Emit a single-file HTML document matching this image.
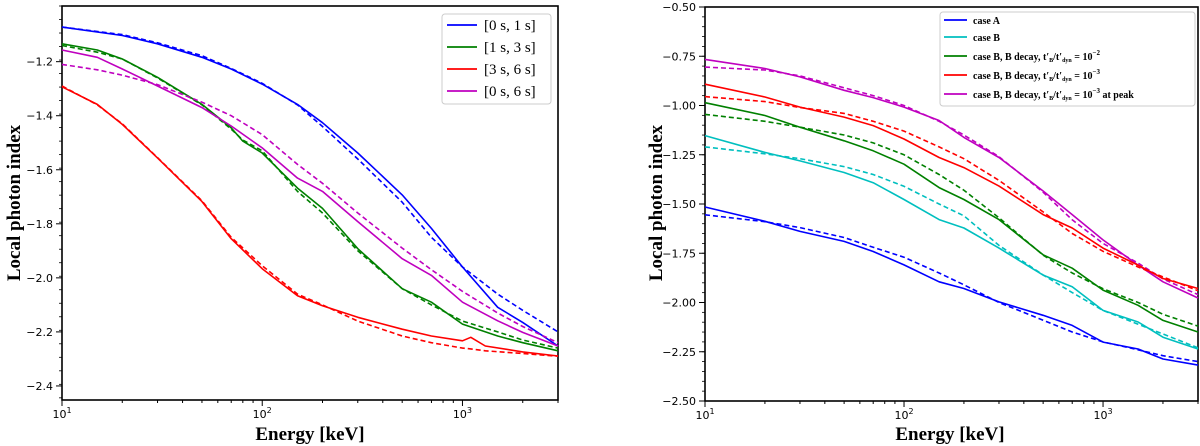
<!DOCTYPE html>
<html><head><meta charset="utf-8"><style>
body{margin:0;background:#fff;}
svg{display:block;}
</style></head><body>
<svg id="chart" width="1200" height="446" viewBox="0 0 1200 446" xmlns="http://www.w3.org/2000/svg"></svg>
<script>
// ---------- Left panel data ----------
const leftBlueE = [10,20,30,50,70,100,150,200,300,500,700,1000,1500,2000,3000];
const leftBlueSolid = [-1.072,-1.103,-1.134,-1.184,-1.227,-1.283,-1.358,-1.426,-1.538,-1.693,-1.817,-1.960,-2.109,-2.165,-2.252];
const leftBlueDash = [-1.072,-1.10,-1.13,-1.178,-1.225,-1.28,-1.36,-1.44,-1.56,-1.72,-1.85,-1.96,-2.06,-2.12,-2.20];
const leftGreenE = [10,15,20,30,50,70,80,100,150,200,300,500,700,1000,1500,2000,3000];
const leftGreenSolid = [-1.134,-1.157,-1.19,-1.258,-1.358,-1.445,-1.494,-1.538,-1.668,-1.743,-1.892,-2.04,-2.09,-2.171,-2.215,-2.24,-2.27];
const leftGreenDash = [-1.14,-1.165,-1.19,-1.26,-1.36,-1.45,-1.49,-1.53,-1.68,-1.76,-1.9,-2.04,-2.1,-2.16,-2.2,-2.23,-2.26];
const leftRedE = [10,15,20,30,50,70,100,150,200,300,500,700,1000,1100,1300,2000,3000];
const leftRedSolid = [-1.293,-1.358,-1.432,-1.556,-1.718,-1.855,-1.966,-2.066,-2.103,-2.146,-2.19,-2.215,-2.233,-2.22,-2.252,-2.274,-2.289];
const leftRedDash = [-1.29,-1.36,-1.43,-1.555,-1.715,-1.85,-1.955,-2.06,-2.10,-2.16,-2.215,-2.24,-2.26,-2.263,-2.27,-2.28,-2.29];
const leftMagE = [10,15,20,30,50,70,100,150,200,300,500,700,1000,1500,2000,3000];
const leftMagSolid = [-1.157,-1.184,-1.227,-1.29,-1.37,-1.438,-1.519,-1.631,-1.68,-1.792,-1.929,-1.991,-2.09,-2.159,-2.202,-2.252];
const leftMagDash = [-1.21,-1.23,-1.25,-1.285,-1.35,-1.40,-1.47,-1.58,-1.65,-1.76,-1.89,-1.97,-2.05,-2.13,-2.18,-2.24];
const leftYTicks = [-1.2,-1.4,-1.6,-1.8,-2.0,-2.2,-2.4];
const leftLegend = ["[0 s, 1 s]","[1 s, 3 s]","[3 s, 6 s]","[0 s, 6 s]"];

// ---------- Right panel data ----------
const rightE = [10,20,30,50,70,100,150,200,300,500,700,1000,1500,2000,3000];
const rightMagSolid = [-0.766,-0.812,-0.855,-0.923,-0.96,-1.008,-1.076,-1.162,-1.264,-1.434,-1.554,-1.682,-1.81,-1.895,-1.977];
const rightMagDash = [-0.805,-0.82,-0.85,-0.91,-0.95,-1.0,-1.08,-1.15,-1.26,-1.44,-1.58,-1.70,-1.80,-1.88,-1.96];
const rightRedSolid = [-0.892,-0.957,-1.008,-1.059,-1.102,-1.17,-1.264,-1.315,-1.409,-1.554,-1.622,-1.724,-1.81,-1.878,-1.929];
const rightRedDash = [-0.955,-0.98,-1.01,-1.04,-1.08,-1.13,-1.21,-1.27,-1.38,-1.54,-1.65,-1.74,-1.82,-1.87,-1.94];
const rightGreenSolid = [-0.986,-1.051,-1.11,-1.179,-1.23,-1.298,-1.417,-1.477,-1.579,-1.758,-1.826,-1.937,-2.014,-2.091,-2.15];
const rightGreenDash = [-1.045,-1.08,-1.11,-1.15,-1.19,-1.25,-1.35,-1.43,-1.57,-1.76,-1.85,-1.93,-2.0,-2.06,-2.12];
const rightCyanSolid = [-1.153,-1.238,-1.281,-1.34,-1.392,-1.477,-1.579,-1.622,-1.724,-1.861,-1.92,-2.04,-2.099,-2.176,-2.236];
const rightCyanDash = [-1.21,-1.245,-1.27,-1.31,-1.35,-1.41,-1.50,-1.56,-1.71,-1.86,-1.95,-2.04,-2.11,-2.16,-2.23];
const rightBlueSolid = [-1.515,-1.588,-1.639,-1.69,-1.741,-1.809,-1.895,-1.929,-1.997,-2.065,-2.116,-2.201,-2.236,-2.287,-2.318];
const rightBlueDash = [-1.555,-1.59,-1.62,-1.67,-1.72,-1.77,-1.85,-1.91,-2.0,-2.09,-2.15,-2.2,-2.24,-2.27,-2.30];
const rightYTicks = [-0.50,-0.75,-1.00,-1.25,-1.50,-1.75,-2.00,-2.25,-2.50];
const rightLegend = ["case A","case B","case B, B decay, t′_B/t′_dyn = 10^−2","case B, B decay, t′_B/t′_dyn = 10^−3","case B, B decay, t′_B/t′_dyn = 10^−3 at peak"];

const svg = document.getElementById('chart');
const NS = 'http://www.w3.org/2000/svg';
function mk(tag, attrs, parent){const e=document.createElementNS(NS,tag);for(const k in attrs)e.setAttribute(k,attrs[k]);(parent||svg).appendChild(e);return e;}
const serif = '"Liberation Serif", "DejaVu Serif", serif';
const sans = '"DejaVu Sans", "Liberation Sans", sans-serif';

function panel(id, x0, x1, y0, y1, ymin, ymax, yTicks, yDec, yMinor){
  const g = mk('g',{});
  
  
  const xs = e => x0 + (Math.log10(e)-1)/(Math.log10(3000)-1)*(x1-x0);
  const ys = v => y0 + (ymax-v)/(ymax-ymin)*(y1-y0);
  for(let d=1; d<=3; d++){
    for(let m=1;m<10;m++){
      const e=m*Math.pow(10,d); if(e>3000) break;
      const x=xs(e), len = m===1?6:3;
      const t=mk('line',{x1:x,x2:x,y1:y1,y2:y1+len,stroke:'#000','stroke-width':1},g);
      
      
      if(m===1){
        const lab=mk('text',{x:x,y:y1+18,'text-anchor':'middle','font-family':sans,'font-size':11},g);
        
        
        lab.textContent='10';
        const s=mk('tspan',{dy:-5,'font-size':8},lab); s.textContent=String(d);
      }
    }
  }
  yTicks.forEach(v=>{
    const y=ys(v);
    mk('line',{x1:x0-6,x2:x0,y1:y,y2:y,stroke:'#000','stroke-width':1},g);
    const lab=mk('text',{x:x0-9,y:y+4,'text-anchor':'end','font-family':sans,'font-size':11},g);
    
    
    lab.textContent='−'+Math.abs(v).toFixed(yDec);
  });
  for(let v=ymax; v>=ymin-1e-9; v-=yMinor){
    const y=ys(v);
    mk('line',{x1:x0-3,x2:x0,y1:y,y2:y,stroke:'#000','stroke-width':0.8},g);
  }
  const frame=mk('rect',{x:x0,y:y0,width:x1-x0,height:y1-y0,fill:'none',stroke:'#000','stroke-width':1.6},g);
  
  
  return {g,xs,ys};
}
function series(p, name, E, vals, color, dashed){
  const d = E.map((e,i)=>(i?'L':'M')+p.xs(e).toFixed(1)+','+p.ys(vals[i]).toFixed(1)).join(' ');
  const path=mk('path',{d:d,fill:'none',stroke:color,'stroke-width':1.6,'stroke-linejoin':'round'},p.g);
  if(dashed) path.setAttribute('stroke-dasharray','5,3');
  
  
}
function axisTitles(cx, cy){
  const xt=mk('text',{x:cx,y:440,'text-anchor':'middle','font-family':serif,'font-size':19,'font-weight':'bold'});
  
  
  xt.textContent='Energy [keV]';
  const yt=mk('text',{x:0,y:0,'text-anchor':'middle','font-family':serif,'font-size':19,'font-weight':'bold',transform:'translate('+(cy)+',203) rotate(-90)'});
  
  
  yt.textContent='Local photon index';
}

// Left panel
const L = panel('left', 62, 558, 6, 400, -2.452, -0.994, leftYTicks, 1, 0.05);
series(L,'blue-dashed',leftBlueE,leftBlueDash,'#0000ff',true);
series(L,'blue-solid',leftBlueE,leftBlueSolid,'#0000ff',false);
series(L,'green-dashed',leftGreenE,leftGreenDash,'#008000',true);
series(L,'green-solid',leftGreenE,leftGreenSolid,'#008000',false);
series(L,'red-dashed',leftRedE,leftRedDash,'#ff0000',true);
series(L,'red-solid',leftRedE,leftRedSolid,'#ff0000',false);
series(L,'magenta-dashed',leftMagE,leftMagDash,'#bf00bf',true);
series(L,'magenta-solid',leftMagE,leftMagSolid,'#bf00bf',false);
axisTitles(310, 20);
{
  const lg=mk('g',{});  
  mk('rect',{x:442,y:14,width:109,height:90,rx:3,fill:'#fff',stroke:'#ccc','stroke-width':1},lg);
  const cols=['#0000ff','#008000','#ff0000','#bf00bf'];
  leftLegend.forEach((t,i)=>{
    const y=25+i*22;
    mk('line',{x1:447,x2:477,y1:y,y2:y,stroke:cols[i],'stroke-width':1.8},lg);
    const tx=mk('text',{x:484,y:y+5,'font-family':serif,'font-size':15},lg);
    
    
    tx.textContent=t;
  });
}

// Right panel
const R = panel('right', 705, 1198, 7, 401, -2.5, -0.5, rightYTicks, 2, 0.05);
series(R,'magenta-dashed',rightE,rightMagDash,'#bf00bf',true);
series(R,'magenta-solid',rightE,rightMagSolid,'#bf00bf',false);
series(R,'red-dashed',rightE,rightRedDash,'#ff0000',true);
series(R,'red-solid',rightE,rightRedSolid,'#ff0000',false);
series(R,'green-dashed',rightE,rightGreenDash,'#008000',true);
series(R,'green-solid',rightE,rightGreenSolid,'#008000',false);
series(R,'cyan-dashed',rightE,rightCyanDash,'#00bfbf',true);
series(R,'cyan-solid',rightE,rightCyanSolid,'#00bfbf',false);
series(R,'blue-dashed',rightE,rightBlueDash,'#0000ff',true);
series(R,'blue-solid',rightE,rightBlueSolid,'#0000ff',false);
axisTitles(950, 662);
{
  const lg=mk('g',{});  
  mk('rect',{x:940,y:12,width:255,height:94,rx:3,fill:'#fff',stroke:'#ccc','stroke-width':1},lg);
  const cols=['#0000ff','#00bfbf','#008000','#ff0000','#bf00bf'];
  const ys=[20,37,56,75,94];
  rightLegend.forEach((t,i)=>{
    const y=ys[i];
    mk('line',{x1:944,x2:967,y1:y,y2:y,stroke:cols[i],'stroke-width':1.8},lg);
    const tx=mk('text',{x:973,y:y+4,'font-family':serif,'font-size':10,'font-weight':'bold'},lg);
    
    
    if(i<2){ tx.textContent=t; }
    else {
      const parts=t.match(/^(.*)t′_B\/t′_dyn = 10\^(−\d)(.*)$/);
      const a=mk('tspan',{},tx); a.textContent=parts[1]+'t′';
      const b=mk('tspan',{dy:2,'font-size':6},tx); b.textContent='B';
      const c=mk('tspan',{dy:-2},tx); c.textContent='/t′';
      const d=mk('tspan',{dy:2,'font-size':6},tx); d.textContent='dyn';
      const e=mk('tspan',{dy:-2},tx); e.textContent=' = 10';
      const f=mk('tspan',{dy:-5,'font-size':7},tx); f.textContent=parts[2];
      const h=mk('tspan',{dy:5},tx); h.textContent=parts[3];
    }
  });
}
</script>
</body></html>
